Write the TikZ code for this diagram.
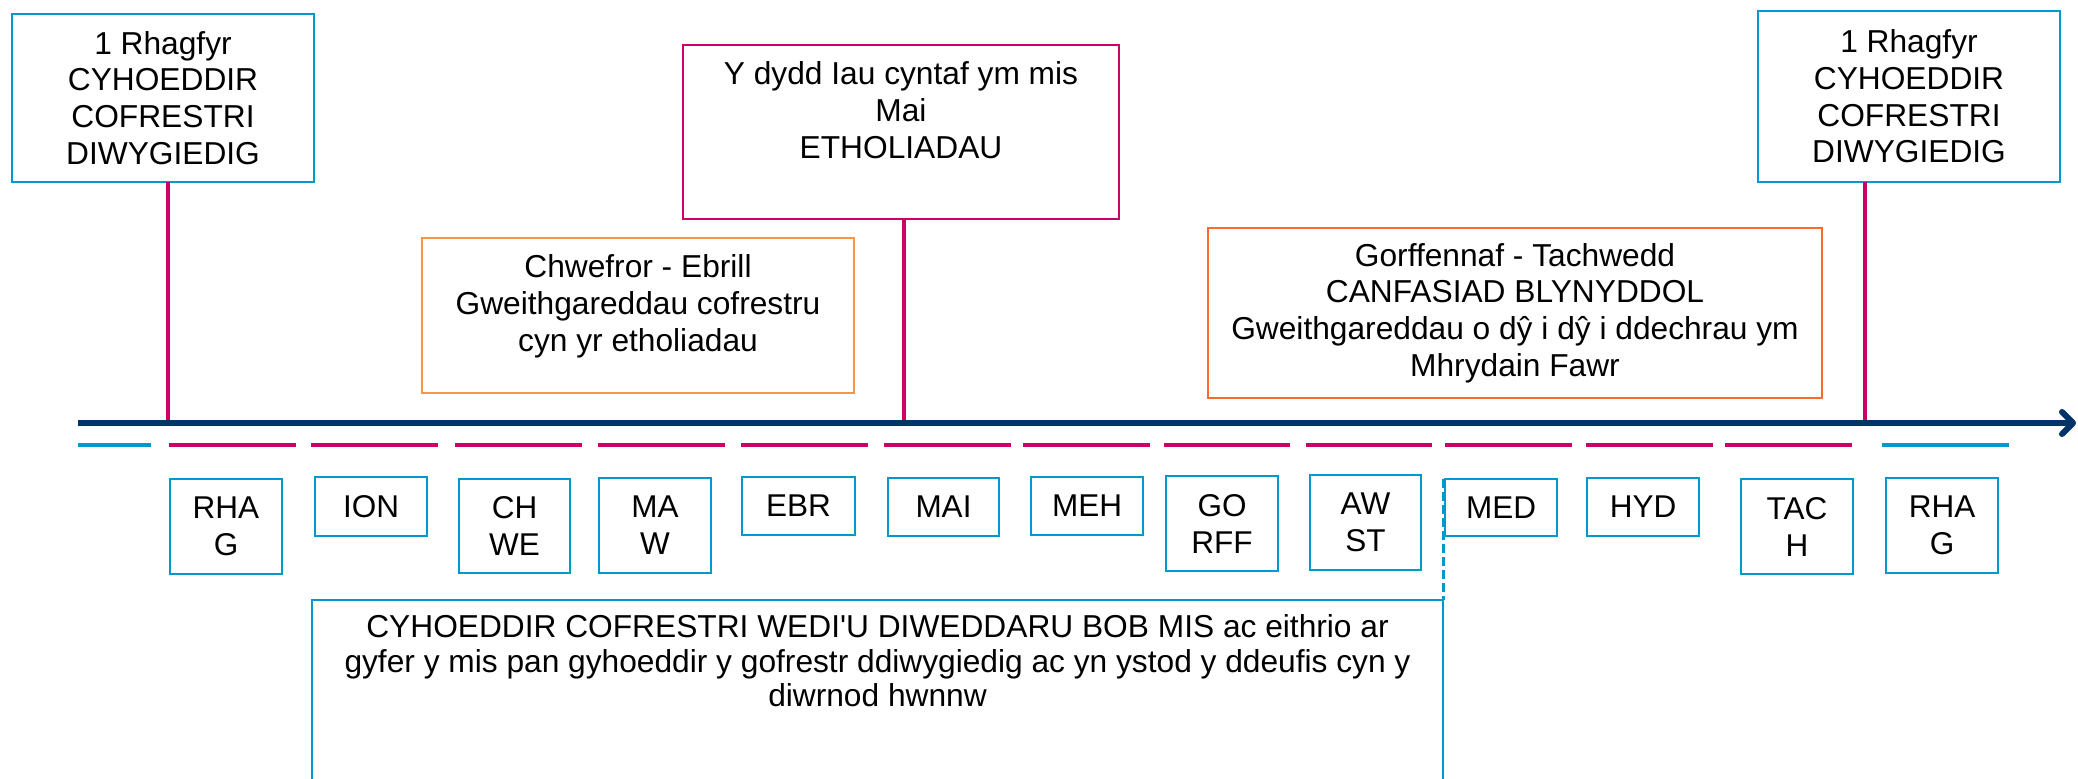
\documentclass[tikz,border=0pt]{standalone}
\usepackage{fontspec}
\setmainfont{Liberation Sans}
\definecolor{cblue}{HTML}{0099CC}
\definecolor{cmag}{HTML}{CC0066}
\definecolor{cnavy}{HTML}{003366}
\definecolor{corl}{HTML}{F79646}
\definecolor{cord}{HTML}{FF6A2B}
\begin{document}
\begin{tikzpicture}[x=1pt,y=-1pt,
  box/.style={draw=#1, line width=2.5pt, inner sep=0pt, outer sep=0pt, anchor=north west, align=center, font=\fontsize{31.7}{36.7}\selectfont},
  txt/.style={inner sep=0pt, outer sep=0pt, align=center, anchor=north, font=\fontsize{31.7}{36.7}\selectfont},
  month/.style={draw=cblue, line width=2.5pt, inner sep=0pt, outer sep=0pt, anchor=north west, minimum width=112pt, align=center, font=\fontsize{31.5}{37}\selectfont},
  dashm/.style={cmag, line width=4pt},
  dashb/.style={cblue, line width=4pt},
  mline/.style={cmag, line width=3.5pt},
  axisline/.style={cnavy, line width=6pt},
]
\useasboundingbox[fill=white] (0,0) rectangle (2078,779);

% top boxes
\node[box=cblue, minimum width=302pt, minimum height=168pt] (tl) at (12,14)
  {1 Rhagfyr\\CYHOEDDIR\\COFRESTRI\\DIWYGIEDIG};
\node[box=cblue, minimum width=302pt, minimum height=171pt] (tr) at (1758,11)
  {1 Rhagfyr\\CYHOEDDIR\\COFRESTRI\\DIWYGIEDIG};
\node[box=cmag, minimum width=436pt, minimum height=174pt] (elec) at (683,45) {};
\node[txt] (electxt) at (901,61.7) {Y dydd Iau cyntaf ym mis\\Mai\\ETHOLIADAU};
\node[box=corl, minimum width=432pt, minimum height=155pt] (chwe) at (422,238) {};
\node[txt] (chwetxt) at (638,254.7) {Chwefror - Ebrill\\Gweithgareddau cofrestru\\cyn yr etholiadau};
\node[box=cord, minimum width=614pt, minimum height=170pt] (gorf) at (1208,228)
  {Gorffennaf - Tachwedd\\CANFASIAD BLYNYDDOL\\Gweithgareddau o dŷ i dŷ i ddechrau ym\\Mhrydain Fawr};

% axis points
\coordinate (axS) at (78,423);
\coordinate (axE) at (2073,423);
\coordinate (t1) at (168,423);
\coordinate (t2) at (904,423);
\coordinate (t3) at (1865,423);

\draw[mline] (tl.south -| t1) -- (t1);
\draw[mline] (elec.south -| t2) -- (t2);
\draw[mline] (tr.south -| t3) -- (t3);

\draw[axisline] (axS) -- (axE);
\draw[axisline, line cap=round, line join=round]
  ([shift={(-11,-11)}]axE) -- (axE) -- ([shift={(-11,11)}]axE);

% month dashes
\draw[dashb] (78,445) -- (151,445);
\foreach \a/\b in {169/296, 311/438, 455/582, 598/725, 741/868, 884/1011,
  1023/1150, 1164/1290, 1306/1432, 1445/1572, 1586/1713, 1725/1852}
  \draw[dashm] (\a,445) -- (\b,445);
\draw[dashb] (1882,445) -- (2009,445);

% month boxes
\node[month, minimum height=95pt] (rhag) at (170,479) {RHA\\G};
\node[month, minimum height=59pt] (ion) at (315,477) {ION};
\node[month, minimum height=94pt, minimum width=111pt] (chw) at (459,479) {CH\\WE};
\node[month, minimum height=95pt] (maw) at (599,478) {MA\\W};
\node[month, minimum height=58pt, minimum width=113pt] (ebr) at (742,477) {EBR};
\node[month, minimum height=58pt, minimum width=111pt] (mai) at (888,478) {MAI};
\node[month, minimum height=58pt] (meh) at (1031,477) {MEH};
\node[month, minimum height=95pt] (gorff) at (1166,476) {GO\\RFF};
\node[month, minimum height=95pt, minimum width=111pt] (awst) at (1310,475) {AW\\ST};
\node[month, minimum height=57pt] (med) at (1445,479) {MED};
\node[month, minimum height=58pt] (hyd) at (1587,478) {HYD};
\node[month, minimum height=95pt] (tach) at (1741,479) {TAC\\H};
\node[month, minimum height=95pt] (rhag2) at (1886,478) {RHA\\G};

% bottom box
\node[box=cblue, minimum width=1131pt, minimum height=195pt] (bot) at (312,600) {};
\node[txt, font=\fontsize{31.7}{34.5}\selectfont] (bottxt) at (877.5,614.7)
  {CYHOEDDIR COFRESTRI WEDI\textquotesingle U DIWEDDARU BOB MIS ac eithrio ar\\gyfer y mis pan gyhoeddir y gofrestr ddiwygiedig ac yn ystod y ddeufis cyn y\\diwrnod hwnnw};
\draw[cblue, line width=3pt, dash pattern=on 9pt off 4pt] (bot.north east |- med.north) -- (bot.north east);
\end{tikzpicture}
\end{document}
